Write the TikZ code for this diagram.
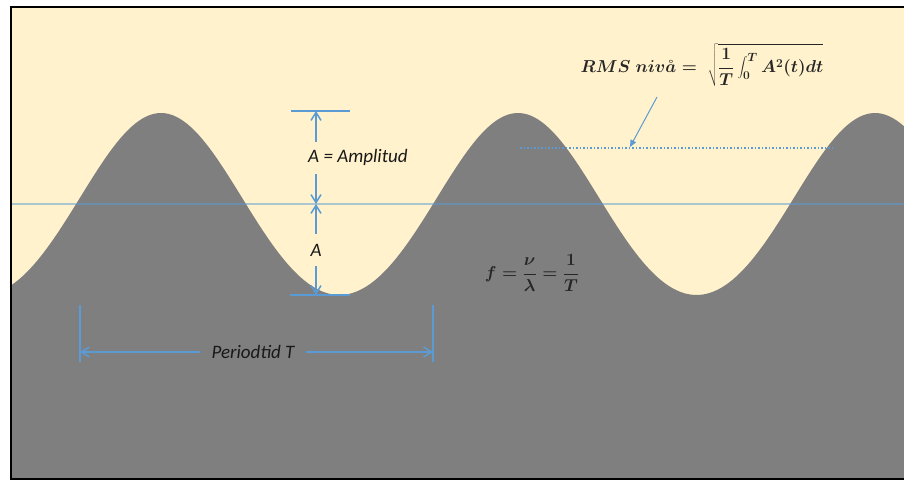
\documentclass[tikz,border=0pt]{standalone}
\usepackage{fontspec}
\newfontfamily\calibri{Carlito}
\usetikzlibrary{arrows.meta}
\definecolor{paleyellow}{HTML}{FFF2CC}
\definecolor{wavegray}{HTML}{7F7F7F}
\definecolor{dimblue}{HTML}{5B9BD5}
\begin{document}
\begin{tikzpicture}[x=1pt,y=-1pt,
  tick/.style={dimblue,line width=1.5pt},
  dim/.style={tick,-{Straight Barb[length=8pt,width=10pt]}},
  lbl/.style={font=\calibri\itshape\fontsize{19}{19}\selectfont,text=black!90},
  eq/.style={font=\fontsize{17}{17}\selectfont\boldmath,text=black!85}]
\useasboundingbox (0,0) rectangle (904,481);
\fill[paleyellow] (12,7) rectangle (904,479);
\fill[wavegray] (12,479) -- plot[domain=12:904,samples=240] (\x,{204-91*cos((\x-161)/357*360)+7*sin((\x-161)/357*360)^2}) -- (904,479) -- cycle;
\draw[line width=2pt] (911,7) -- (11,7) -- (11,479) -- (911,479);
\draw[dimblue,opacity=0.5,line width=2pt] (12,204) -- (904,204);

% amplitude
\coordinate (crest) at (316,111);
\coordinate (mid) at (316,204);
\coordinate (trough) at (316,295);
\draw[tick] (291,111) -- (350,111);
\draw[tick] (290,295) -- (350,295);
\node[lbl,anchor=base west,inner xsep=0pt,inner ysep=8pt] (amp) at (308,163) {A = Amplitud};
\draw[dim] (amp.north -| crest) -- (crest);
\draw[dim] (amp.south -| crest) -- (mid);
\node[lbl,inner ysep=10pt] (half) at (316,250) {A};
\draw[dim] (half.north) -- (mid);
\draw[dim] (half.south) -- (trough);

% period
\coordinate (perL) at (80,352);
\coordinate (perR) at (433,352);
\draw[tick] (80,305) -- (80,362);
\draw[tick] (433,305) -- (433,362);
\node[lbl,inner xsep=11pt] (per) at (253,352) {Periodtid T};
\draw[dim] (per) -- (perL);
\draw[dim] (per) -- (perR);

% rms
\node[eq] (rms) at (702,65) {$\displaystyle RMS\ niv\mathring{a} =\ \sqrt{\frac{1}{T}\int_0^T A^2(t)dt}$};
\coordinate (rmsL) at (520,148);
\coordinate (rmsR) at (835,148);
\coordinate (rmstail) at (657,97);
\coordinate (rmstip) at (630,147);
\draw[dimblue,dotted,line width=1.5pt] (rmsL) -- (rmsR);
\draw[dimblue,line width=1pt,-{Triangle[length=7pt,width=6pt]}] (rmstail) -- (rmstip);

\node[eq] (freq) at (532,273) {$\displaystyle f=\frac{\nu}{\lambda}=\frac{1}{T}$};
\end{tikzpicture}
\end{document}
